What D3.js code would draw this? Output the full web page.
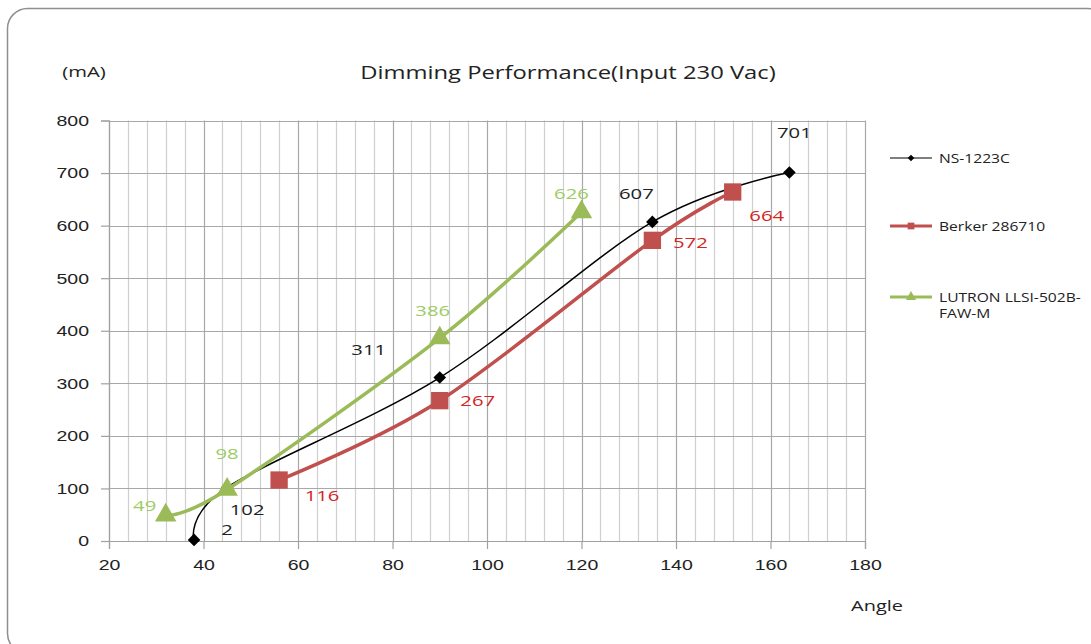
<!DOCTYPE html>
<html>
<head>
<meta charset="utf-8">
<script src="https://cdn.jsdelivr.net/npm/d3@7"></script>
<style>
  body { margin: 0; background: #fff; }
  svg { display: block; font-family: "Open Sans", "Noto Sans", sans-serif; }
</style>
</head>
<body>
<script>
// chart data (angle in degrees, current in mA)
var seriesNames = ["NS-1223C", "Berker 286710", "LUTRON LLSI-502B-FAW-M"];
var nsAngle = [38, 45, 90, 135, 164];
var nsCurrent = [2, 102, 311, 607, 701];
var berkerAngle = [56, 90, 135, 152];
var berkerCurrent = [116, 267, 572, 664];
var lutronAngle = [32, 45, 90, 120];
var lutronCurrent = [49, 98, 386, 626];
var xTicks = [20, 40, 60, 80, 100, 120, 140, 160, 180];
var yTicks = [0, 100, 200, 300, 400, 500, 600, 700, 800];

var width = 1091, height = 644;

//the original text is drawn wide, stretch it horizontally
function stretch(sel, k)
{
	sel.each(function() {
		var len = this.getComputedTextLength();
		d3.select(this).attr("textLength", len * k).attr("lengthAdjust", "spacingAndGlyphs");
	});
}

var svg = d3.select("body").append("svg")
	.attr("width", width)
	.attr("height", height);

// outer rounded frame
svg.append("rect")
	.attr("x", 7.5).attr("y", 8.5)
	.attr("width", 1100).attr("height", 645)
	.attr("rx", 20)
	.attr("fill", "#fff")
	.attr("stroke", "#8f8f8f")
	.attr("stroke-width", 1.5);

var x = d3.scaleLinear().domain([20, 180]).range([109, 865]);
var y = d3.scaleLinear().domain([0, 800]).range([541, 120.5]);

// vertical grid every 4 degrees, darker at each 20
var g = svg.append("g");
g.selectAll("line.vg")
	.data(d3.range(20, 181, 4))
	.enter().append("line")
	.attr("x1", function(d) { return Math.round(x(d)) + 0.5; })
	.attr("x2", function(d) { return Math.round(x(d)) + 0.5; })
	.attr("y1", y(800)).attr("y2", y(0))
	.attr("stroke", function(d) { return d % 20 == 0 ? "#a8a8a8" : "#cfcfcf"; })
	.attr("stroke-width", 1.2);

// horizontal grid
g.selectAll("line.hg")
	.data(yTicks)
	.enter().append("line")
	.attr("x1", x(20)).attr("x2", x(180))
	.attr("y1", function(d) { return Math.round(y(d)) + 0.5; })
	.attr("y2", function(d) { return Math.round(y(d)) + 0.5; })
	.attr("stroke", "#a8a8a8")
	.attr("stroke-width", 1.2);

// axes
var yAxis = d3.axisLeft(y).tickValues(yTicks).tickSize(8).tickPadding(12);
var xAxis = d3.axisBottom(x).tickValues(xTicks).tickSize(8).tickPadding(10);

var ya = svg.append("g").attr("transform", "translate(" + x(20) + ",0)").call(yAxis);
var xa = svg.append("g").attr("transform", "translate(0," + y(0) + ")").call(xAxis);
[ya, xa].forEach(function(a) {
	a.select(".domain").attr("stroke", "#a0a0a0").attr("stroke-width", 1.2);
	a.selectAll(".tick line").attr("stroke", "#a0a0a0").attr("stroke-width", 1.2);
	a.selectAll(".tick text").attr("fill", "#222").style("font-size", "15px");
	stretch(a.selectAll(".tick text"), 1.3);
});

// titles
stretch(svg.append("text").attr("x", 568).attr("y", 79)
	.attr("text-anchor", "middle").attr("fill", "#222")
	.style("font-size", "18px")
	.text("Dimming Performance(Input 230 Vac)"), 1.32);
stretch(svg.append("text").attr("x", 84).attr("y", 77)
	.attr("text-anchor", "middle").attr("fill", "#222")
	.style("font-size", "15px").text("(mA)"), 1.35);
stretch(svg.append("text").attr("x", 877).attr("y", 611)
	.attr("text-anchor", "middle").attr("fill", "#222")
	.style("font-size", "15px").text("Angle"), 1.33);

var series = [
	{ name: seriesNames[0], xs: nsAngle, ys: nsCurrent, color: "#000", width: 1.5, labelColor: "#222",
	  marker: "diamond", size: 80,
	  offsets: [[33, -10], [20, 22], [-71, -28], [-16, -28], [5, -40]] },
	{ name: seriesNames[1], xs: berkerAngle, ys: berkerCurrent, color: "#C0504D", width: 3.5, labelColor: "#d42424",
	  marker: "square", size: 300,
	  offsets: [[43, 16], [38, 0], [38, 2], [34, 24]] },
	{ name: seriesNames[2], xs: lutronAngle, ys: lutronCurrent, color: "#9BBB59", width: 3.5, labelColor: "#9ccc63",
	  marker: "triangle", size: 200,
	  offsets: [[-21, -9], [0, -36], [-7, -27], [-10, -18]] }
];

var symbols = { diamond: d3.symbolSquare, square: d3.symbolSquare, triangle: d3.symbolTriangle };

var line = d3.line()
	.x(function(d) { return x(d[0]); })
	.y(function(d) { return y(d[1]); })
	.curve(d3.curveCardinal.tension(0));

series.forEach(function(s) {
	var pts = s.xs.map(function(v, i) { return [v, s.ys[i]]; });
	svg.append("path")
		.datum(pts)
		.attr("d", line)
		.attr("fill", "none")
		.attr("stroke", s.color)
		.attr("stroke-width", s.width);

	svg.selectAll(null)
		.data(pts)
		.enter().append("path")
		.attr("d", d3.symbol().type(symbols[s.marker]).size(s.size))
		.attr("transform", function(d) {
			return "translate(" + x(d[0]) + "," + y(d[1]) + ")" + (s.marker == "diamond" ? " rotate(45)" : "");
		})
		.attr("fill", s.color);

	var labels = svg.selectAll(null)
		.data(pts)
		.enter().append("text")
		.attr("x", function(d, i) { return x(d[0]) + s.offsets[i][0]; })
		.attr("y", function(d, i) { return y(d[1]) + s.offsets[i][1]; })
		.attr("dy", "0.35em")
		.attr("text-anchor", "middle")
		.attr("fill", s.labelColor)
		.style("font-size", "15px")
		.text(function(d) { return d[1]; });
	stretch(labels, 1.35);
});

// legend
var legendY = [158, 226, 297];
series.forEach(function(s, i) {
	var lg = svg.append("g").attr("transform", "translate(0," + legendY[i] + ")");
	lg.append("line").attr("x1", 890).attr("x2", 932).attr("y1", 0).attr("y2", 0)
		.attr("stroke", s.color).attr("stroke-width", s.width == 1.5 ? 1.2 : 3);
	lg.append("path")
		.attr("d", d3.symbol().type(symbols[s.marker]).size(s.marker == "diamond" ? 22 : 45))
		.attr("transform", "translate(911,0)" + (s.marker == "diamond" ? " rotate(45)" : ""))
		.attr("fill", s.color);
	var t = lg.append("text").attr("x", 939).attr("y", 0).attr("dy", "0.35em")
		.attr("fill", "#222").style("font-size", "13px");
	if (i == 2) {
		t.text("LUTRON LLSI-502B-");
		stretch(t, 1.2);
		stretch(lg.append("text").attr("x", 939).attr("y", 16).attr("dy", "0.35em")
			.attr("fill", "#222").style("font-size", "13px").text("FAW-M"), 1.2);
	} else {
		t.text(s.name);
		stretch(t, 1.2);
	}
});
</script>
</body>
</html>
